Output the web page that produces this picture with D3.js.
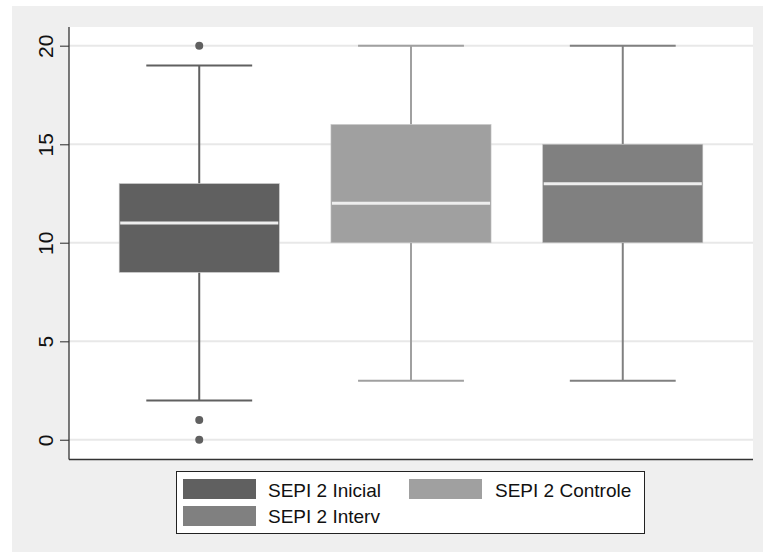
<!DOCTYPE html>
<html>
<head>
<meta charset="utf-8">
<script src="https://cdn.jsdelivr.net/npm/d3@7"></script>
<style>
  html, body { margin: 0; padding: 0; background: #ffffff; }
  svg { display: block; font-family: "Liberation Sans", Arial, sans-serif; }
</style>
</head>
<body>
<svg id="chart" width="763" height="553"></svg>
<script>
// Groups and their box-plot summaries
const groups = ["SEPI 2 Inicial", "SEPI 2 Controle", "SEPI 2 Interv"];
const whiskerLow = [2, 3, 3];
const q1 = [8.5, 10, 10];
const median = [11, 12, 13];
const q3 = [13, 16, 15];
const whiskerHigh = [19, 20, 20];
const outliers = [[20, 1, 0], [], []];
const fills = ["#606060", "#a0a0a0", "#808080"];
const yTicks = [0, 5, 10, 15, 20];

const svg = d3.select("#chart");

// outer graph region
svg.append("rect").attr("x", 12).attr("y", 6).attr("width", 751).attr("height", 546)
  .attr("fill", "#efefef");

const plot = { left: 69, right: 753, top: 27, bottom: 459.5 };

svg.append("rect").attr("x", plot.left).attr("y", plot.top)
  .attr("width", plot.right - plot.left).attr("height", plot.bottom - plot.top)
  .attr("fill", "#ffffff");

const y = d3.scaleLinear().domain([-1, 20.95]).range([plot.bottom, plot.top]);
const x = d3.scalePoint().domain(groups).range([plot.left, plot.right]).padding(0.615);
const step = x.step();
const boxW = step * 0.756;
const capW = step * 0.5;

// grid lines
svg.append("g").selectAll("line").data(yTicks).join("line")
  .attr("x1", plot.left).attr("x2", plot.right)
  .attr("y1", d => y(d)).attr("y2", d => y(d))
  .attr("stroke", "#e8e8e8").attr("stroke-width", 2);

// boxes
const rows = groups.map((g, i) => ({ g, i }));
const gBox = svg.append("g");
rows.forEach(({ g, i }) => {
  const cx = x(g);
  const col = fills[i];
  // whiskers
  gBox.append("line").attr("x1", cx).attr("x2", cx)
    .attr("y1", y(q3[i])).attr("y2", y(whiskerHigh[i]))
    .attr("stroke", col).attr("stroke-width", 2);
  gBox.append("line").attr("x1", cx).attr("x2", cx)
    .attr("y1", y(q1[i])).attr("y2", y(whiskerLow[i]))
    .attr("stroke", col).attr("stroke-width", 2);
  [whiskerHigh[i], whiskerLow[i]].forEach(v => {
    gBox.append("line").attr("x1", cx - capW / 2).attr("x2", cx + capW / 2)
      .attr("y1", y(v)).attr("y2", y(v))
      .attr("stroke", col).attr("stroke-width", 2);
  });
  // box
  gBox.append("rect").attr("x", cx - boxW / 2).attr("y", y(q3[i]))
    .attr("width", boxW).attr("height", y(q1[i]) - y(q3[i]))
    .attr("fill", col).attr("stroke", "#c4c4c4").attr("stroke-width", 0.6);
  // median
  gBox.append("line").attr("x1", cx - boxW / 2 + 1).attr("x2", cx + boxW / 2 - 1)
    .attr("y1", y(median[i])).attr("y2", y(median[i]))
    .attr("stroke", "#eeeeee").attr("stroke-width", 3);
  // outside values
  gBox.selectAll(null).data(outliers[i]).join("circle")
    .attr("cx", cx).attr("cy", d => y(d)).attr("r", 4)
    .attr("fill", col);
});

// y axis
const yAxis = d3.axisLeft(y).tickValues(yTicks).tickSize(9).tickPadding(6).tickFormat(d3.format("d"));
const ya = svg.append("g").attr("transform", `translate(${plot.left},0)`).call(yAxis);
ya.select(".domain").remove();
ya.selectAll(".tick line").attr("stroke", "#555").attr("stroke-width", 1.3);
ya.selectAll(".tick text")
  .attr("font-size", 21).attr("fill", "#111")
  .attr("transform", "translate(-16,0) rotate(-90)")
  .attr("x", 0).attr("y", 0).attr("dy", 0)
  .attr("text-anchor", "middle");

// axis lines
svg.append("line").attr("x1", plot.left).attr("x2", plot.left)
  .attr("y1", plot.top).attr("y2", plot.bottom)
  .attr("stroke", "#333").attr("stroke-width", 1.3);
svg.append("line").attr("x1", plot.left).attr("x2", plot.right)
  .attr("y1", plot.bottom).attr("y2", plot.bottom)
  .attr("stroke", "#333").attr("stroke-width", 1.3);

// legend
const lg = svg.append("g");
lg.append("rect").attr("x", 176.5).attr("y", 471.5).attr("width", 468).attr("height", 62)
  .attr("fill", "#ffffff").attr("stroke", "#222").attr("stroke-width", 1);
const legendPos = [
  { sx: 183, sy: 479, tx: 268, ty: 497 },
  { sx: 409, sy: 479, tx: 495, ty: 497 },
  { sx: 183, sy: 506, tx: 268, ty: 523 }
];
groups.forEach((g, i) => {
  const p = legendPos[i];
  lg.append("rect").attr("x", p.sx).attr("y", p.sy).attr("width", 73).attr("height", 20)
    .attr("fill", fills[i]);
  lg.append("text").attr("x", p.tx).attr("y", p.ty).attr("font-size", 19)
    .attr("fill", "#111").text(g);
});
</script>
</body>
</html>
